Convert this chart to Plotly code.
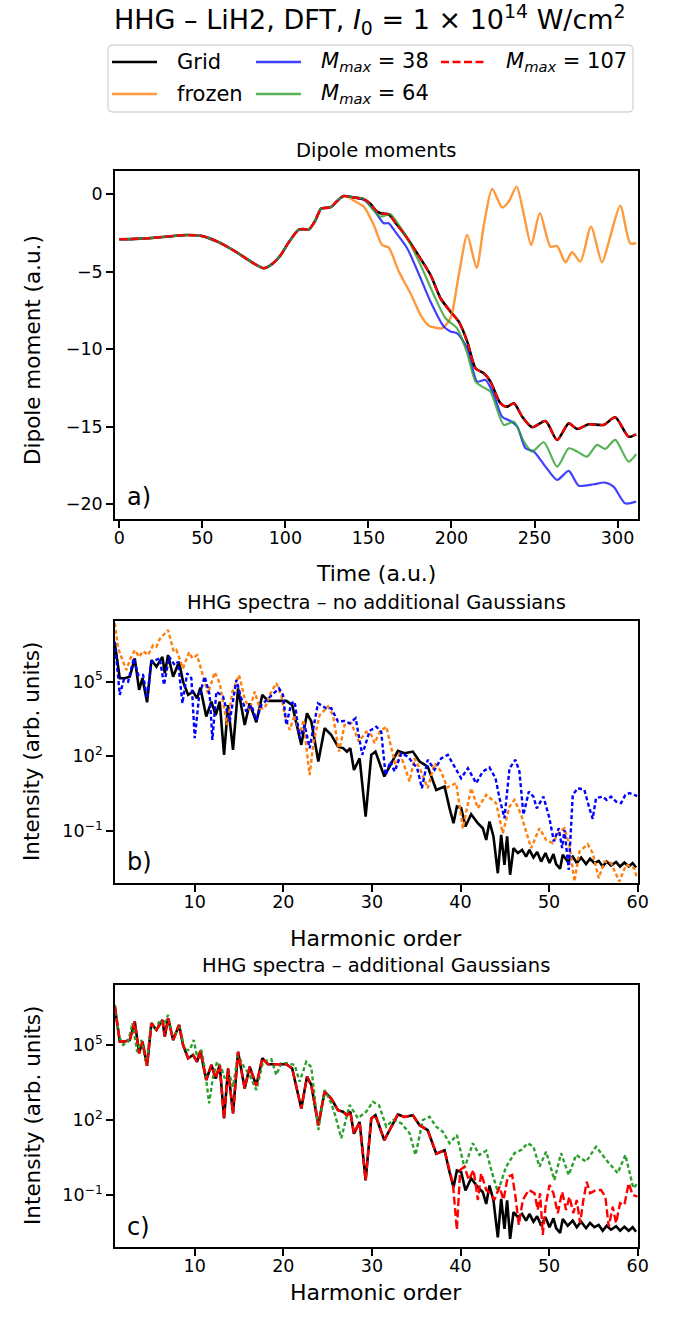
import numpy as np
import plotly.graph_objects as go

W, H = 680, 1317

# ---------------- Data: dipole moments (a.u.) ----------------
t_early = [0, 10, 20, 30, 40, 50, 60, 70, 80, 87, 92, 97, 102, 108, 111, 114, 118, 121.5, 125, 127.5, 131, 135]
d_early = [-2.9, -2.88, -2.82, -2.72, -2.63, -2.7, -3.1, -3.7, -4.4, -4.77, -4.5, -3.95, -3.1, -2.28, -2.25, -2.28,
           -1.7, -0.92, -0.88, -0.82, -0.45, -0.12]

t_grid = [141, 147.2, 151, 155.2, 158.5, 162.2, 166, 171.3, 179.3, 187.4, 193.4, 199.4, 204.4, 209.5, 214.5, 219.5,
          223.5, 229.5, 233.5, 237.6, 242.6, 248.6, 256.6, 263.6, 270.6, 275.6, 282.6, 291.6, 298.6, 306.6, 311.2]
d_grid = [-0.2, -0.32, -0.6, -1.12, -1.25, -1.29, -1.8, -2.52, -3.81, -5.21, -6.71, -7.57, -8.22, -9.51, -11.23, -11.55,
          -12.09, -13.49, -13.7, -13.49, -14.35, -15.03, -14.63, -15.85, -14.78, -15.14, -14.84, -14.88, -14.39, -15.64, -15.49]

t_frozen = [138, 142.2, 147.2, 153.2, 158.2, 162.2, 168.3, 175.3, 181.4, 186.4, 190, 194.4, 199.4, 204.4, 209.5, 215.1,
            219.5, 224.5, 230.5, 234.5, 239.2, 243.6, 248, 253.2, 259.6, 263.6, 268.6, 272.6, 277.6, 284.0, 290.6,
            295.6, 301.6, 307.6, 311.2]
d_frozen = [-0.2, -0.47, -0.8, -1.98, -3.27, -3.44, -4.99, -6.39, -7.79, -8.48, -8.6, -8.65, -8.0, -5.21, -2.63, -4.74,
            -1.98, 0.34, -0.86, -0.47, 0.49, -1.34, -3.27, -1.22, -3.38, -3.34, -4.39, -3.74, -4.34, -2.09, -4.39,
            -2.73, -0.73, -3.16, -3.16]

t_m38 = [141, 147.2, 153.2, 159.2, 162.2, 166, 173.3, 181.4, 187.4, 195.4, 199.4, 203.4, 209.5, 215.5, 220.5, 225.5,
         230.5, 235.5, 239.6, 244.6, 249.6, 256.6, 263.6, 270.6, 276.6, 285.6, 292.6, 297.6, 304.6, 311.2]
d_m38 = [-0.2, -0.35, -1.0, -1.87, -1.87, -2.4, -3.48, -5.42, -6.93, -8.54, -8.85, -8.97, -9.94, -12.09, -11.98, -12.95,
         -14.35, -14.63, -14.99, -16.39, -16.6, -17.57, -18.43, -17.85, -18.8, -18.71, -18.6, -18.86, -19.94, -19.83]

t_m64 = [141, 147.2, 152, 157.2, 163.2, 168, 173.3, 181.4, 189.4, 196.4, 203.4, 209.5, 214.5, 219.5, 223.5, 231.5,
         237.6, 243.6, 248.6, 255.6, 263.6, 270.6, 275.6, 281.6, 287.6, 292.6, 298.6, 306.6, 311.2]
d_m64 = [-0.2, -0.3, -0.9, -1.44, -1.29, -1.95, -2.84, -4.56, -6.5, -8.0, -8.65, -10.26, -12.09, -12.48, -12.74, -14.88,
         -14.67, -15.96, -16.6, -16.0, -17.57, -16.39, -16.6, -16.93, -16.17, -16.43, -15.85, -17.25, -16.77]

# M_max = 107 coincides with the grid curve in panel a
t_m107 = list(t_grid)
d_m107 = list(d_grid)

# ---------------- Data: HHG spectra, log10 intensity vs harmonic order ----------------
h_grid = [0.98, 1.54, 2.1, 2.67, 3.23, 3.72, 4.1, 4.62, 5.11, 5.68, 6.35, 6.62, 6.99, 7.56, 8.23, 8.68, 9.25, 9.81,
          10.26, 10.64, 11.3, 11.88, 12.37, 12.82, 13.31, 13.76, 14.32, 14.89, 15.64, 16.2, 16.95, 17.63, 18.27,
          19.21, 20.34, 21.0, 21.54, 22.03, 22.67, 23.16, 23.95, 24.66, 25.41, 26.17, 26.73, 27.18, 27.56, 27.97,
          28.61, 29.29, 29.93, 30.4, 31.4, 32.93, 33.68, 34.62, 35.38, 36.3, 37.26, 38.2, 38.76, 39.21, 39.59,
          40.07, 40.56, 41.2, 41.95, 42.52, 42.9, 43.27, 43.72, 44.21, 44.59, 44.96, 45.26, 45.6, 45.98, 46.47,
          46.95, 47.4, 47.78, 48.23, 48.65, 49.1, 49.59, 50.04, 50.49, 50.79, 51.24, 51.54, 52.1, 52.67, 53.12,
          53.61, 54.17, 54.62, 55.11, 55.6, 56.05, 56.5, 56.99, 57.56, 58.01, 58.5, 58.98, 59.43, 59.81]
L_grid = [6.54, 5.14, 5.14, 5.2, 5.94, 4.67, 5.14, 4.17, 5.87, 5.6, 6.0, 5.34, 6.07, 5.2, 5.8, 5.0, 4.47, 4.6,
          4.33, 4.76, 3.6, 4.2, 3.66, 4.2, 2.06, 4.06, 2.26, 4.73, 3.26, 4.13, 3.37, 4.47, 4.23,
          4.23, 4.23, 4.06, 3.26, 2.46, 3.73, 3.4, 1.79, 3.13, 2.86, 2.39, 2.33, 2.19, 2.33, 1.45,
          1.92, -0.42, 2.06, 2.19, 1.19, 2.22, 2.12, 2.19, 1.79, 1.59, 0.65, 0.79, -0.08, -0.69, -0.02,
          -0.08, -0.82, -0.33, -0.69, -0.89, -1.36, -0.62, -1.22, -2.7, -1.16, -2.36, -1.22, -2.76, -1.69, -1.89,
          -1.76, -2.03, -1.76, -2.07, -1.85, -2.23, -1.89, -2.29, -1.93, -2.33, -2.52, -1.96, -2.23, -2.03, -2.29,
          -2.07, -2.33, -2.12, -2.29, -2.2, -2.43, -2.23, -2.39, -2.25, -2.43, -2.27, -2.43, -2.29, -2.47]

h_frozen = [0.98, 1.35, 1.92, 2.29, 2.75, 3.23, 3.72, 4.17, 4.74, 5.3, 5.68, 6.05, 6.99, 7.63, 7.93, 8.38, 8.68,
            9.36, 9.74, 10.26, 10.87, 11.5, 12.26, 12.82, 13.65, 14.25, 15.0, 15.64, 16.2, 16.77, 17.33, 17.9,
            18.46, 19.21, 19.77, 20.15, 20.72, 21.28, 21.84, 22.29, 22.59, 22.97, 23.42, 24.1, 25.04, 25.6, 26.28,
            26.92, 27.67, 28.53, 29.36, 29.93, 30.3, 30.9, 31.62, 32.37, 32.74, 33.12, 33.68, 34.25, 34.81, 35.56,
            36.3, 37.07, 37.8, 38.5, 39.51, 40.26, 41.2, 41.95, 42.9, 44.02, 44.77, 45.53, 46.09, 46.84, 47.4,
            47.97, 48.91, 49.66, 50.41, 51.17, 51.73, 52.29, 52.86, 53.42, 54.36, 54.92, 55.6, 56.24, 56.99,
            57.93, 58.68, 59.62, 59.9]
L_frozen = [7.35, 6.34, 5.8, 5.47, 5.94, 6.27, 6.0, 6.23, 6.07, 6.47, 6.41, 6.72, 7.08, 6.21, 6.27, 5.87, 5.54,
            6.18, 5.94, 6.07, 5.34, 4.53, 5.38, 4.94, 3.26, 4.6, 5.27, 4.33, 3.86, 4.6, 3.93, 3.93,
            4.47, 4.94, 4.47, 3.66, 3.06, 3.66, 2.93, 3.46, 2.39, 1.25, 2.59, 3.66, 4.0, 3.66, 2.19,
            3.26, 3.33, 2.59, 2.99, 2.86, 2.53, 3.0, 3.19, 2.12, 1.52, 2.19, 1.59, 0.99, 1.92, 1.39,
            0.72, 1.72, 1.4, 0.75, 0.92, -0.89, 0.72, -0.09, 0.45, 0.12, -1.09, -0.02, 0.25, -0.35, -1.02,
            -1.69, -0.89, -1.36, -1.49, -1.02, -0.89, -1.56, -3.03, -1.83, -1.53, -1.89, -2.9, -2.23, -2.29,
            -3.03, -2.36, -2.5, -2.9]

h_m38 = [0.98, 1.54, 1.99, 2.48, 3.12, 3.61, 4.17, 4.62, 5.11, 5.6, 6.05, 6.54, 7.11, 7.74, 8.12, 8.61, 9.14, 9.62,
         10.0, 10.49, 11.13, 11.69, 11.99, 12.44, 13.2, 13.95, 14.7, 15.26, 15.83, 16.39, 16.95, 17.52, 18.16,
         18.84, 19.51, 19.96, 20.34, 20.9, 21.28, 21.84, 22.41, 22.97, 23.91, 24.85, 25.41, 26.17, 26.92, 27.48,
         28.16, 28.91, 29.74, 30.49, 31.05, 31.54, 32.07, 32.56, 33.31, 34.06, 34.62, 35.11, 35.64, 36.3, 37.07,
         37.82, 38.57, 39.32, 40.07, 40.83, 41.77, 42.52, 43.27, 43.95, 44.4, 44.96, 45.53, 46.2, 46.65, 47.1,
         47.71, 48.23, 48.61, 49.36, 50.04, 50.53, 51.09, 51.47, 51.73, 52.22, 52.67, 53.23, 53.98, 54.55, 54.92,
         55.3, 56.05, 56.5, 56.99, 57.56, 58.12, 58.61, 59.06, 59.62, 59.95]
L_m38 = [6.61, 4.47, 5.07, 5.0, 5.94, 5.27, 5.27, 4.33, 5.8, 5.87, 5.94, 4.87, 6.0, 5.67, 5.8, 4.13, 5.34, 5.14,
         2.73, 4.4, 5.2, 4.47, 2.66, 4.6, 4.4, 3.4, 5.07, 4.33, 3.8, 4.06, 3.46, 4.06, 4.27,
         4.47, 4.73, 4.47, 3.26, 4.13, 4.2, 2.73, 3.26, 2.32, 4.13, 3.93, 3.93, 3.4, 3.42, 3.33,
         3.53, 2.06, 3.02, 3.19, 2.99, 1.25, 1.79, 1.39, 2.12, 1.99, 1.72, 1.52, 0.72, 1.86, 1.46,
         1.92, 2.06, 1.59, 1.12, 1.52, 0.92, 1.39, 1.55, 1.12, 0.32, -0.49, 1.52, 1.86, 1.39, -0.35,
         0.58, 0.38, -0.09, 0.38, -0.49, -1.42, -0.89, -1.69, -0.96, -2.56, 0.45, 0.72, 0.65, -0.09, -0.51,
         0.32, 0.38, 0.25, 0.38, 0.18, 0.12, 0.45, 0.52, 0.45, 0.4]

h_m64 = [0.98, 1.47, 1.92, 2.48, 2.97, 3.5, 3.99, 4.55, 5.11, 5.6, 6.05, 6.5, 6.99, 7.56, 8.23, 8.87, 9.44, 9.89,
         10.26, 10.75, 11.13, 11.62, 12.07, 12.52, 13.01, 13.38, 13.87, 14.32, 14.89, 15.64, 16.2, 16.95, 17.71,
         18.65, 19.21, 19.77, 20.53, 21.28, 21.84, 22.59, 23.16, 23.95, 24.66, 25.41, 25.9, 26.54, 27.48, 28.42,
         29.36, 30.11, 30.79, 31.62, 32.37, 33.31, 34.25, 34.92, 35.75, 36.5, 37.26, 38.01, 38.76, 39.59, 40.45,
         41.39, 42.14, 42.9, 43.57, 44.21, 45.15, 46.09, 46.84, 47.59, 48.23, 48.91, 49.66, 50.6, 51.35, 52.22,
         53.05, 54.17, 55.3, 56.62, 57.74, 58.61, 59.51, 60.0]
L_m64 = [6.6, 5.33, 5.0, 5.13, 5.87, 4.73, 5.2, 4.2, 5.93, 5.6, 6.0, 5.8, 6.2, 5.2, 5.84, 4.8, 4.8, 5.2,
         4.53, 4.8, 4.07, 2.67, 3.73, 4.33, 4.07, 3.67, 3.87, 3.33, 4.6, 4.07, 3.8, 3.2, 4.33,
         4.43, 3.8, 4.27, 4.27, 4.2, 3.53, 4.33, 4.11, 1.6, 3.2, 2.67, 2.13, 1.27, 2.6, 2.07,
         2.33, 2.73, 2.6, 1.73, 2.0, 1.87, 1.47, 0.6, 2.0, 2.13, 1.73, 1.53, 1.07, 1.4, 0.07,
         1.07, 0.6, 0.77, -0.13, -0.87, 0.13, 0.67, 0.8, 1.07, 0.93, 0.13, 0.73, -0.4, 0.67, -0.2,
         0.6, 0.33, 0.93, 0.33, -0.13, 0.6, -0.73, -0.53]

# M_max = 107 follows the grid spectrum up to order ~38, then departs from it
h_m107_tail = [38.76, 39.14, 39.59, 39.96, 40.45, 40.94, 41.47, 41.96, 42.33, 42.9, 43.35, 43.83, 44.4, 44.85,
               45.34, 45.83, 46.2, 46.58, 47.03, 47.71, 48.35, 48.72, 48.98, 49.29, 49.59, 50.04, 50.49, 50.98,
               51.47, 51.92, 52.29, 52.74, 53.12, 53.5, 53.87, 54.25, 54.62, 55.3, 55.86, 56.35, 56.73, 57.18,
               57.56, 58.01, 58.5, 58.98, 59.43, 60.0]
L_m107_tail = [0.0, -0.53, -2.4, 0.0, 0.13, -0.4, 0.0, -1.2, -0.13, -0.8, -0.93, -1.2, -0.67, -1.2,
               -0.27, -0.2, -1.07, -2.2, -1.2, -0.8, -0.93, -1.6, -0.93, -2.6, -1.47, -0.6, -0.93, -1.73,
               -0.87, -1.6, -1.07, -1.73, -1.2, -2.13, -1.2, -0.47, -0.93, -0.8, -0.8, -1.07, -2.27, -1.47,
               -2.13, -1.33, -1.4, -0.53, -1.0, -1.07]
n_head = sum(1 for h in h_grid if h <= 38.3)
h_m107 = h_grid[:n_head] + h_m107_tail
L_m107 = L_grid[:n_head] + L_m107_tail

log_ticks = [1e-1, 1e2, 1e5]
log_tick_text = ["10<sup>\u22121</sup>", "10<sup>2</sup>", "10<sup>5</sup>"]

# ---------------- Styles ----------------
C_GRID = "black"
C_FROZEN_A = "rgba(255,127,14,0.8)"
C_M38_A = "rgba(0,0,255,0.75)"
C_M64_A = "rgba(44,160,44,0.8)"
C_RED = "red"
C_FROZEN = "#ff7f0e"
C_M38 = "blue"
C_M64 = "#2ca02c"
FONT = "DejaVu Sans"
DOT = "4px,2.6px"
DASH = "8px,3.5px"


def fx(x):
    return x / W


def fy(y):
    return 1 - y / H


AX = {
    "a": dict(x=(115, 637.5), y=(170.7, 519.3)),
    "b": dict(x=(115, 637.7), y=(621, 882.7)),
    "c": dict(x=(115, 637.7), y=(985, 1246.7)),
}

fig = go.Figure()


def dip(tl, dl):
    return t_early + tl, d_early + dl


def add_dip(tl, dl, color, width, dash="solid"):
    x, y = dip(tl, dl)
    fig.add_trace(go.Scatter(x=x, y=y, mode="lines", xaxis="x", yaxis="y", showlegend=False,
                             line=dict(color=color, width=width, dash=dash, shape="spline", smoothing=0.7),
                             hoverinfo="skip"))


add_dip(t_grid, d_grid, C_GRID, 2.6)
add_dip(t_frozen, d_frozen, C_FROZEN_A, 2.4)
add_dip(t_m38, d_m38, C_M38_A, 2.2)
add_dip(t_m64, d_m64, C_M64_A, 2.2)
add_dip(t_m107, d_m107, C_RED, 2.2, DASH)


def add_spec(h, L, axis, color, width, dash="solid"):
    fig.add_trace(go.Scatter(x=h, y=np.power(10.0, np.array(L)), mode="lines", xaxis="x" + axis, yaxis="y" + axis,
                             showlegend=False, line=dict(color=color, width=width, dash=dash),
                             hoverinfo="skip"))


add_spec(h_grid, L_grid, "2", C_GRID, 2.6)
add_spec(h_frozen, L_frozen, "2", C_FROZEN, 2.4, DOT)
add_spec(h_m38, L_m38, "2", C_M38, 2.4, DOT)
add_spec(h_grid, L_grid, "3", C_GRID, 2.6)
add_spec(h_m64, L_m64, "3", C_M64, 2.4, DOT)
add_spec(h_m107, L_m107, "3", C_RED, 2.4, DASH)

common = dict(showline=True, linecolor="black", linewidth=1.6, mirror=True, ticks="outside", ticklen=7,
              tickwidth=1.6, tickcolor="black", showgrid=False, zeroline=False, automargin=False,
              tickfont=dict(family=FONT, size=17.5, color="black"))
xcommon = dict(common, ticklabelstandoff=-5)


def dom(k):
    return [fx(AX[k]["x"][0]), fx(AX[k]["x"][1])], [fy(AX[k]["y"][1]), fy(AX[k]["y"][0])]


xa, ya = dom("a")
xb, yb = dom("b")
xc, yc = dom("c")

fig.update_layout(
    width=W, height=H, autosize=False, margin=dict(l=0, r=0, t=0, b=0, autoexpand=False),
    paper_bgcolor="white", plot_bgcolor="white",
    xaxis=dict(domain=xa, anchor="y", range=[-2.6, 312], tickvals=[0, 50, 100, 150, 200, 250, 300], **xcommon),
    yaxis=dict(domain=ya, anchor="x", range=[-20.97, 1.52], tickvals=[-20, -15, -10, -5, 0], **common),
    xaxis2=dict(domain=xb, anchor="y2", range=[1, 60], tickvals=[10, 20, 30, 40, 50, 60], **xcommon),
    yaxis2=dict(domain=yb, anchor="x2", type="log", range=[-3.08, 7.44], tickvals=log_ticks,
                ticktext=log_tick_text, **common),
    xaxis3=dict(domain=xc, anchor="y3", range=[1, 60], tickvals=[10, 20, 30, 40, 50, 60], **xcommon),
    yaxis3=dict(domain=yc, anchor="x3", type="log", range=[-3.07, 7.40], tickvals=log_ticks,
                ticktext=log_tick_text, **common),
)

ann = []


def text(x, y, s, size, xanchor="center", yanchor="middle", angle=0):
    ann.append(dict(x=fx(x), y=fy(y), xref="paper", yref="paper", text=s, showarrow=False, xanchor=xanchor,
                    yanchor=yanchor, textangle=angle, font=dict(family=FONT, size=size, color="black")))


text(370, 19, "HHG \u2013 LiH2, DFT, <i>I</i><sub>0</sub> = 1 \u00d7 10<sup>14</sup> W/cm<sup>2</sup>", 27)
text(376, 150, "Dipole moments", 19.5)
text(376, 602, "HHG spectra \u2013 no additional Gaussians", 19.5)
text(376, 965, "HHG spectra \u2013 additional Gaussians", 19.5)
text(376, 574, "Time (a.u.)", 22)
text(376, 938, "Harmonic order", 22)
text(376, 1292, "Harmonic order", 22)
text(32, 350, "Dipole moment (a.u.)", 21.5, angle=-90)
text(32, 752, "Intensity (arb. units)", 21.5, angle=-90)
text(32, 1116, "Intensity (arb. units)", 21.5, angle=-90)
text(125, 497, "a)", 24, xanchor="left")
text(125, 862, "b)", 24, xanchor="left")
text(125, 1227, "c)", 24, xanchor="left")

# ---------------- Legend (drawn manually, matplotlib style, 3 columns) ----------------
legend_entries = [
    ("Grid", C_GRID, "solid", 112, 62),
    ("frozen", C_FROZEN_A, "solid", 112, 94),
    ("<i>M</i><sub><i>max</i></sub> = 38", C_M38_A, "solid", 256, 62),
    ("<i>M</i><sub><i>max</i></sub> = 64", C_M64_A, "solid", 256, 94),
    ("<i>M</i><sub><i>max</i></sub> = 107", C_RED, "dash", 441, 62),
]
shapes = []
x0, x1, y0, y1, r = 108, 633, 45, 112, 5
path = (f"M {fx(x0 + r)},{fy(y0)} L {fx(x1 - r)},{fy(y0)} Q {fx(x1)},{fy(y0)} {fx(x1)},{fy(y0 + r)} "
        f"L {fx(x1)},{fy(y1 - r)} Q {fx(x1)},{fy(y1)} {fx(x1 - r)},{fy(y1)} "
        f"L {fx(x0 + r)},{fy(y1)} Q {fx(x0)},{fy(y1)} {fx(x0)},{fy(y1 - r)} "
        f"L {fx(x0)},{fy(y0 + r)} Q {fx(x0)},{fy(y0)} {fx(x0 + r)},{fy(y0)} Z")
shapes.append(dict(type="path", path=path, xref="paper", yref="paper", line=dict(color="#d6d6d6", width=1.3),
                   fillcolor="rgba(255,255,255,0.8)", layer="above"))
for label, color, dash, lx, ly in legend_entries:
    shapes.append(dict(type="line", xref="paper", yref="paper", x0=fx(lx), x1=fx(lx + 45), y0=fy(ly), y1=fy(ly),
                       line=dict(color=color, width=2.4, dash=DASH if dash == "dash" else "solid"), layer="above"))
    text(lx + 63, ly, label, 21, xanchor="left")

fig.update_layout(annotations=ann, shapes=shapes)
fig.write_html(
    "out.html",
    config={"displayModeBar": False, "responsive": False},
    post_script=("document.documentElement.style.overflow='hidden';"
                 "document.body.style.overflow='hidden';"
                 "document.body.style.margin='0px';"),
)
